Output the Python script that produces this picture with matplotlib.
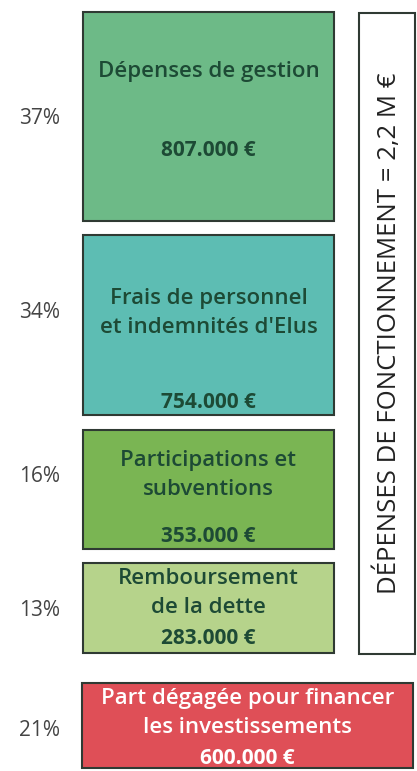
import matplotlib.pyplot as plt

# données
postes = ['Dépenses de gestion',
          'Frais de personnel\net indemnités d\'Elus',
          'Participations et\nsubventions',
          'Remboursement\nde la dette',
          'Part dégagée pour financer\nles investissements']
montants = ['807.000 €', '754.000 €', '353.000 €', '283.000 €', '600.000 €']
pourcents = ['37%', '34%', '16%', '13%', '21%']
couleurs = ['#6dba87', '#5dbdb3', '#7ab553', '#b6d38b', '#df4f57']
total_label = 'DÉPENSES DE FONCTIONNEMENT = 2,2 M €'

# mise en page (pixels)
haut = [12, 235, 430, 563, 683]
bas = [221, 415, 549, 653, 768]
gauche = [83, 83, 83, 83, 82]
droite = [334, 334, 334, 334, 413]
y_titre = [72, 313, 475, 593, 713]
y_montant = [150, 403, 536, 638, 758]
y_pct = [118, 313, 477, 610, 730]

vert_fonce = '#1d4a35'

plt.rcParams['font.family'] = ['Open Sans', 'DejaVu Sans']

fig = plt.figure(figsize=(4.17, 7.71), dpi=100)
ax = fig.add_axes([0, 0, 1, 1])
ax.set_xlim(0, 417)
ax.set_ylim(771, 0)
ax.axis('off')

for i in range(len(postes)):
    x0, x1 = gauche[i], droite[i]
    ax.bar((x0 + x1) / 2, bas[i] - haut[i], width=x1 - x0, bottom=haut[i],
           color=couleurs[i], edgecolor='#2f3a33', linewidth=1.5)
    coul_txt = 'white' if i == 4 else vert_fonce
    ax.text((x0 + x1) / 2, y_titre[i], postes[i], ha='center', va='center',
            fontsize=16, color=coul_txt, linespacing=1.5, fontweight='semibold')
    ax.text((x0 + x1) / 2, y_montant[i], montants[i], ha='center', va='center',
            fontsize=15, color=coul_txt, fontweight='bold')
    ax.text(40, y_pct[i], pourcents[i], ha='center', va='center',
            fontsize=15, color='#444444')

# cadre total
ax.bar(387, 641, width=56, bottom=13, color='white', edgecolor='#2f3a33', linewidth=1.5)
ax.text(388, 333, total_label, rotation=90, ha='center', va='center',
        fontsize=18.5, color='#222222')

fig.savefig('out.png', dpi=100)
